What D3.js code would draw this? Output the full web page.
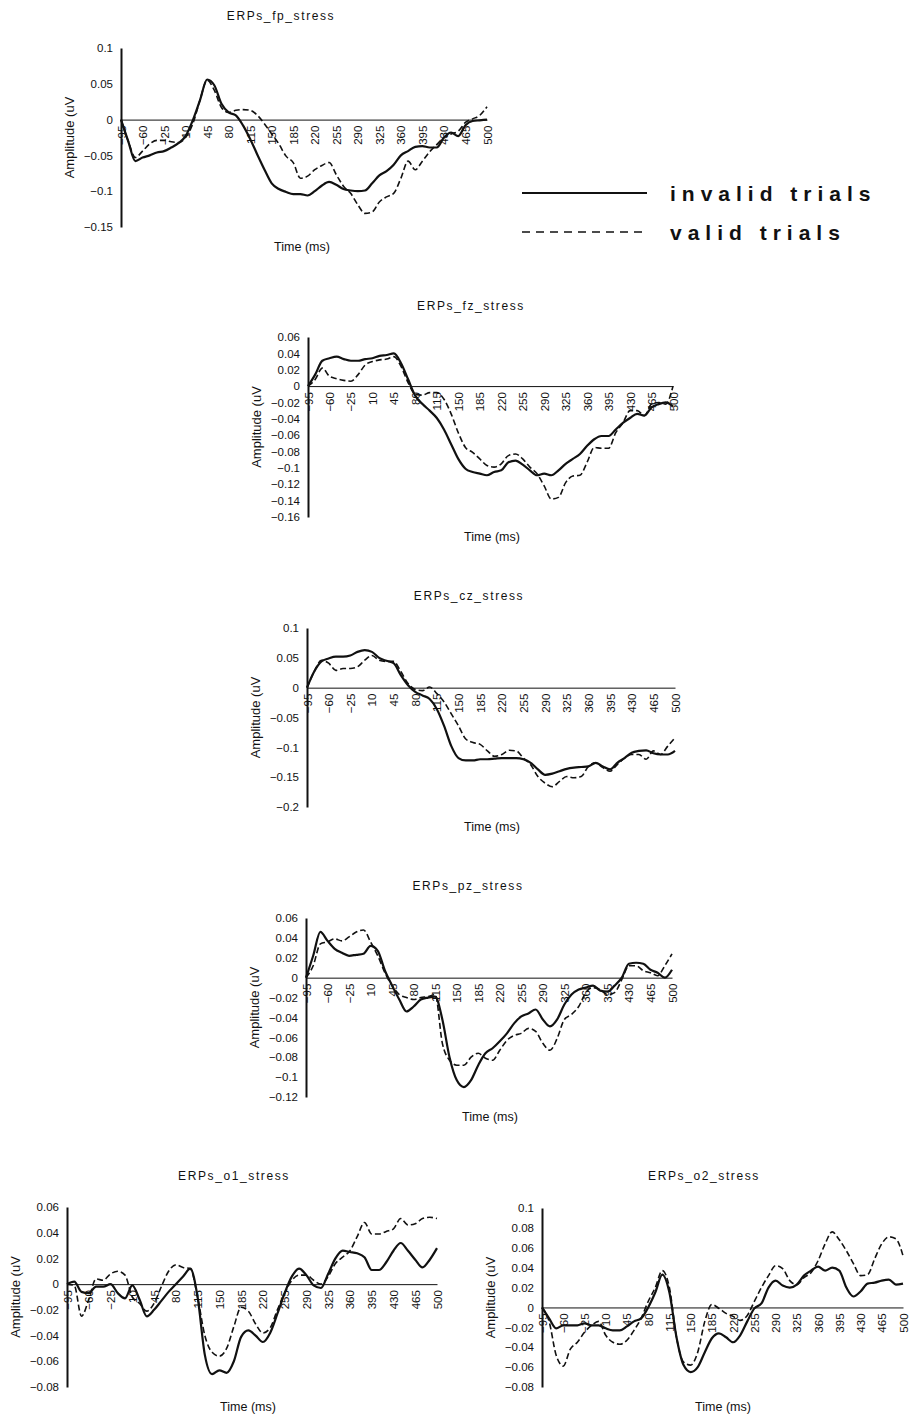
<!DOCTYPE html>
<html>
<head>
<meta charset="utf-8">
<script src="https://cdn.jsdelivr.net/npm/d3@7"></script>
<style>
body{margin:0;background:#fff;}
svg{display:block;font-family:"Liberation Sans",Arial,sans-serif;}
</style>
</head>
<body>
<div id="chart"></div>
<script>
// sample grid: one point every third of a tick (35 ms / 3)
var times = d3.range(0, 52).map(function(i){ return -95 + i*35/3; });
var xTicks = [-95,-60,-25,10,45,80,115,150,185,220,255,290,325,360,395,430,465,500];

// y tick labels per electrode
var fpTicks = [0.1,0.05,0,-0.05,-0.1,-0.15];
var fzTicks = [0.06,0.04,0.02,0,-0.02,-0.04,-0.06,-0.08,-0.1,-0.12,-0.14,-0.16];
var czTicks = [0.1,0.05,0,-0.05,-0.1,-0.15,-0.2];
var pzTicks = [0.06,0.04,0.02,0,-0.02,-0.04,-0.06,-0.08,-0.1,-0.12];
var o1Ticks = [0.06,0.04,0.02,0,-0.02,-0.04,-0.06,-0.08];
var o2Ticks = [0.1,0.08,0.06,0.04,0.02,0,-0.02,-0.04,-0.06,-0.08];

// amplitudes (uV)
var fpInvalid = [0,-0.03,-0.058,-0.053,-0.05,-0.046,-0.044,-0.039,-0.033,-0.023,
  -0.001,0.027,0.056,0.048,0.022,0.01,0.006,-0.008,-0.027,-0.049,
  -0.07,-0.089,-0.097,-0.101,-0.104,-0.104,-0.106,-0.1,-0.092,-0.087,
  -0.091,-0.097,-0.099,-0.1,-0.099,-0.089,-0.078,-0.072,-0.063,-0.05,
  -0.044,-0.038,-0.037,-0.039,-0.039,-0.025,-0.018,-0.023,-0.008,-0.002,
  -0.001,0];
var fpValid = [0,-0.03,-0.053,-0.044,-0.034,-0.029,-0.029,-0.031,-0.032,-0.025,
  -0.006,0.027,0.055,0.041,0.017,0.01,0.013,0.014,0.013,0.006,
  -0.006,-0.02,-0.034,-0.051,-0.06,-0.082,-0.079,-0.07,-0.064,-0.06,
  -0.077,-0.093,-0.103,-0.119,-0.131,-0.129,-0.115,-0.108,-0.103,-0.082,
  -0.058,-0.07,-0.058,-0.045,-0.035,-0.025,-0.02,-0.016,-0.004,0.001,
  0.006,0.018];

var fzInvalid = [0,0.014,0.031,0.034,0.036,0.033,0.031,0.031,0.033,0.034,
  0.037,0.038,0.04,0.028,0.008,-0.012,-0.022,-0.03,-0.039,-0.053,
  -0.071,-0.089,-0.101,-0.105,-0.107,-0.109,-0.105,-0.103,-0.093,-0.091,
  -0.096,-0.103,-0.109,-0.107,-0.109,-0.103,-0.095,-0.089,-0.083,-0.073,
  -0.065,-0.061,-0.061,-0.053,-0.045,-0.039,-0.034,-0.036,-0.026,-0.022,
  -0.02,-0.025];
var fzValid = [0,0.008,0.022,0.012,0.009,0.007,0.006,0.014,0.026,0.03,
  0.032,0.033,0.036,0.024,0.004,-0.01,-0.011,-0.008,-0.008,-0.016,
  -0.034,-0.057,-0.075,-0.081,-0.089,-0.097,-0.099,-0.095,-0.085,-0.083,
  -0.089,-0.099,-0.107,-0.122,-0.138,-0.136,-0.118,-0.11,-0.109,-0.093,
  -0.075,-0.076,-0.076,-0.057,-0.045,-0.03,-0.03,-0.036,-0.022,-0.02,
  -0.022,0];

var czInvalid = [0,0.027,0.044,0.049,0.052,0.052,0.054,0.06,0.063,0.06,
  0.05,0.045,0.041,0.021,0.004,-0.007,-0.013,-0.019,-0.036,-0.064,
  -0.098,-0.118,-0.122,-0.122,-0.12,-0.12,-0.119,-0.118,-0.118,-0.118,
  -0.12,-0.126,-0.137,-0.146,-0.144,-0.14,-0.136,-0.134,-0.133,-0.132,
  -0.126,-0.132,-0.137,-0.126,-0.118,-0.109,-0.106,-0.105,-0.11,-0.112,
  -0.112,-0.106];
var czValid = [0,0.027,0.046,0.041,0.029,0.032,0.032,0.035,0.046,0.054,
  0.046,0.044,0.044,0.027,0.007,-0.003,-0.005,0.001,-0.01,-0.024,
  -0.044,-0.064,-0.086,-0.092,-0.095,-0.106,-0.115,-0.112,-0.105,-0.106,
  -0.118,-0.129,-0.149,-0.16,-0.166,-0.157,-0.149,-0.151,-0.149,-0.132,
  -0.126,-0.134,-0.14,-0.129,-0.118,-0.112,-0.112,-0.12,-0.106,-0.112,
  -0.098,-0.084];

var pzInvalid = [0,0.022,0.046,0.037,0.029,0.025,0.022,0.023,0.024,0.032,
  0.027,0.007,-0.008,-0.022,-0.034,-0.029,-0.022,-0.02,-0.019,-0.042,
  -0.08,-0.103,-0.11,-0.103,-0.088,-0.076,-0.071,-0.064,-0.056,-0.046,
  -0.039,-0.036,-0.032,-0.042,-0.049,-0.042,-0.027,-0.017,-0.012,-0.01,
  -0.008,-0.013,-0.014,-0.008,0,0.014,0.015,0.014,0.008,0.005,
  0,0.008];
var pzValid = [0,0.012,0.034,0.036,0.039,0.037,0.041,0.046,0.048,0.036,
  0.022,0.005,-0.008,-0.017,-0.02,-0.022,-0.02,-0.019,-0.017,-0.066,
  -0.083,-0.088,-0.088,-0.08,-0.076,-0.081,-0.083,-0.073,-0.063,-0.058,
  -0.056,-0.051,-0.054,-0.066,-0.073,-0.061,-0.042,-0.037,-0.029,-0.015,
  -0.01,-0.012,-0.017,-0.015,-0.002,0.012,0.012,0.007,0.005,0.002,
  0.012,0.024];

var o1Invalid = [0,0.002,-0.006,-0.007,-0.002,-0.002,0,-0.007,-0.011,-0.001,
  -0.012,-0.025,-0.02,-0.013,-0.006,0,0.006,0.012,-0.01,-0.055,
  -0.07,-0.067,-0.069,-0.06,-0.041,-0.036,-0.04,-0.045,-0.038,-0.023,
  -0.007,0.006,0.012,0.007,-0.001,-0.003,0.008,0.02,0.026,0.025,
  0.024,0.021,0.011,0.011,0.017,0.026,0.032,0.026,0.019,0.013,
  0.019,0.028];
var o1Valid = [0,-0.001,-0.025,-0.012,0.004,0.003,0.008,0.01,0.007,-0.01,
  -0.015,-0.021,-0.015,-0.002,0.01,0.015,0.013,0.012,-0.01,-0.04,
  -0.053,-0.056,-0.05,-0.033,-0.018,-0.021,-0.031,-0.038,-0.034,-0.02,
  -0.007,0.003,0.007,0.007,0.003,0,0.006,0.016,0.021,0.026,
  0.037,0.048,0.039,0.039,0.041,0.043,0.051,0.046,0.047,0.051,
  0.052,0.051];

var o2Invalid = [0,-0.011,-0.021,-0.018,-0.018,-0.018,-0.016,-0.018,-0.018,-0.021,
  -0.023,-0.023,-0.019,-0.014,-0.011,0,0.015,0.033,0.015,-0.03,
  -0.058,-0.065,-0.06,-0.045,-0.031,-0.026,-0.03,-0.035,-0.028,-0.014,
  -0.001,0.004,0.02,0.027,0.022,0.02,0.023,0.032,0.037,0.041,
  0.037,0.04,0.037,0.02,0.011,0.016,0.024,0.025,0.027,0.028,
  0.023,0.024];
var o2Valid = [0,-0.014,-0.048,-0.059,-0.042,-0.035,-0.025,-0.018,-0.014,-0.028,
  -0.035,-0.037,-0.033,-0.023,-0.011,0.006,0.02,0.037,0.02,-0.03,
  -0.055,-0.058,-0.045,-0.014,0.003,-0.001,-0.006,-0.009,-0.013,-0.008,
  0.006,0.02,0.032,0.042,0.039,0.027,0.023,0.03,0.035,0.047,
  0.064,0.076,0.068,0.057,0.044,0.032,0.033,0.049,0.064,0.071,
  0.069,0.052];

var width = 911,
    height = 1416;

// where each small chart sits on the page
var panels = [
  {title:"ERPs_fp_stress", inv:fpInvalid, val:fpValid, ticks:fpTicks,
   left:121, right:487, top:48, bottom:227, titleX:281, titleY:20, timeX:302, timeY:251},
  {title:"ERPs_fz_stress", inv:fzInvalid, val:fzValid, ticks:fzTicks,
   left:308, right:673, top:337, bottom:517, titleX:471, titleY:310, timeX:492, timeY:541},
  {title:"ERPs_cz_stress", inv:czInvalid, val:czValid, ticks:czTicks,
   left:307, right:675, top:628, bottom:807, titleX:469, titleY:600, timeX:492, timeY:831},
  {title:"ERPs_pz_stress", inv:pzInvalid, val:pzValid, ticks:pzTicks,
   left:306, right:672, top:918, bottom:1097, titleX:468, titleY:890, timeX:490, timeY:1121},
  {title:"ERPs_o1_stress", inv:o1Invalid, val:o1Valid, ticks:o1Ticks,
   left:67, right:437, top:1207, bottom:1387, titleX:234, titleY:1180, timeX:248, timeY:1411},
  {title:"ERPs_o2_stress", inv:o2Invalid, val:o2Valid, ticks:o2Ticks,
   left:542, right:903, top:1208, bottom:1387, titleX:704, titleY:1180, timeX:723, timeY:1411}
];

var svg = d3.select("#chart").append("svg")
    .attr("width", width)
    .attr("height", height);

var fmt = d3.format("~g");

panels.forEach(function(p){
    var x = d3.scaleLinear()
        .domain([-95, 500])
        .range([p.left, p.right]);
    var y = d3.scaleLinear()
        .domain([d3.min(p.ticks), d3.max(p.ticks)])
        .range([p.bottom, p.top]);

    var g = svg.append("g");

    // y axis (thick line on the left)
    var ya = g.append("g")
        .attr("transform", "translate(" + p.left + ",0)")
        .call(d3.axisLeft(y).tickValues(p.ticks).tickFormat(fmt).tickSize(0).tickSizeOuter(0).tickPadding(8));
    ya.select(".domain").attr("stroke", "#111").attr("stroke-width", 2);
    ya.selectAll("text")
        .attr("fill", "#111")
        .style("font-size", "11.5px")
        .style("font-family", "'Liberation Sans',Arial,sans-serif");

    // x axis at zero, rotated labels
    var xa = g.append("g")
        .attr("transform", "translate(0," + y(0) + ")")
        .call(d3.axisBottom(x).tickValues(xTicks).tickSize(0).tickSizeOuter(0));
    xa.select(".domain").attr("stroke", "#111").attr("stroke-width", 1);
    xa.selectAll("text")
        .attr("fill", "#111")
        .attr("x", -6)
        .attr("y", 0)
        .attr("dy", "0.35em")
        .attr("transform", "rotate(-90)")
        .style("text-anchor", "end")
        .style("font-size", "11.5px")
        .style("font-family", "'Liberation Sans',Arial,sans-serif");

    var line = d3.line()
        .x(function(d,i){ return x(times[i]); })
        .y(function(d){ return y(d); })
        .curve(d3.curveMonotoneX);

    // valid trials (dashed)
    g.append("path")
        .datum(p.val)
        .attr("d", line)
        .attr("fill", "none")
        .attr("stroke", "#111")
        .attr("stroke-width", 1.6)
        .attr("stroke-dasharray", "6,3");

    // invalid trials (solid)
    g.append("path")
        .datum(p.inv)
        .attr("d", line)
        .attr("fill", "none")
        .attr("stroke", "#111")
        .attr("stroke-width", 2.2);

    // title
    g.append("text")
        .attr("x", p.titleX)
        .attr("y", p.titleY)
        .style("text-anchor", "middle")
        .style("font-size", "12px")
        .style("letter-spacing", "1.6px")
        .attr("fill", "#111")
        .text(p.title);

    // axis titles
    g.append("text")
        .attr("x", p.timeX)
        .attr("y", p.timeY)
        .style("text-anchor", "middle")
        .style("font-size", "12.5px")
        .attr("fill", "#111")
        .text("Time (ms)");

    g.append("text")
        .attr("transform", "translate(" + (p.left - 52) + "," + ((p.top + p.bottom)/2) + ") rotate(-90)")
        .attr("dy", "0.35em")
        .style("text-anchor", "middle")
        .style("font-size", "13px")
        .attr("fill", "#111")
        .text("Amplitude (uV");
});

// Legend
var legend = svg.append("g");
legend.append("line")
    .attr("x1", 522).attr("x2", 647)
    .attr("y1", 193).attr("y2", 193)
    .attr("stroke", "#111")
    .attr("stroke-width", 2);
legend.append("line")
    .attr("x1", 522).attr("x2", 642)
    .attr("y1", 232).attr("y2", 232)
    .attr("stroke", "#111")
    .attr("stroke-width", 1.6)
    .attr("stroke-dasharray", "8,6");
legend.append("text")
    .attr("x", 670).attr("y", 201)
    .style("font-size", "21px")
    .style("font-weight", "bold")
    .style("letter-spacing", "6px")
    .attr("fill", "#111")
    .text("invalid trials");
legend.append("text")
    .attr("x", 670).attr("y", 240)
    .style("font-size", "21px")
    .style("font-weight", "bold")
    .style("letter-spacing", "6px")
    .attr("fill", "#111")
    .text("valid trials");
</script>
</body>
</html>
